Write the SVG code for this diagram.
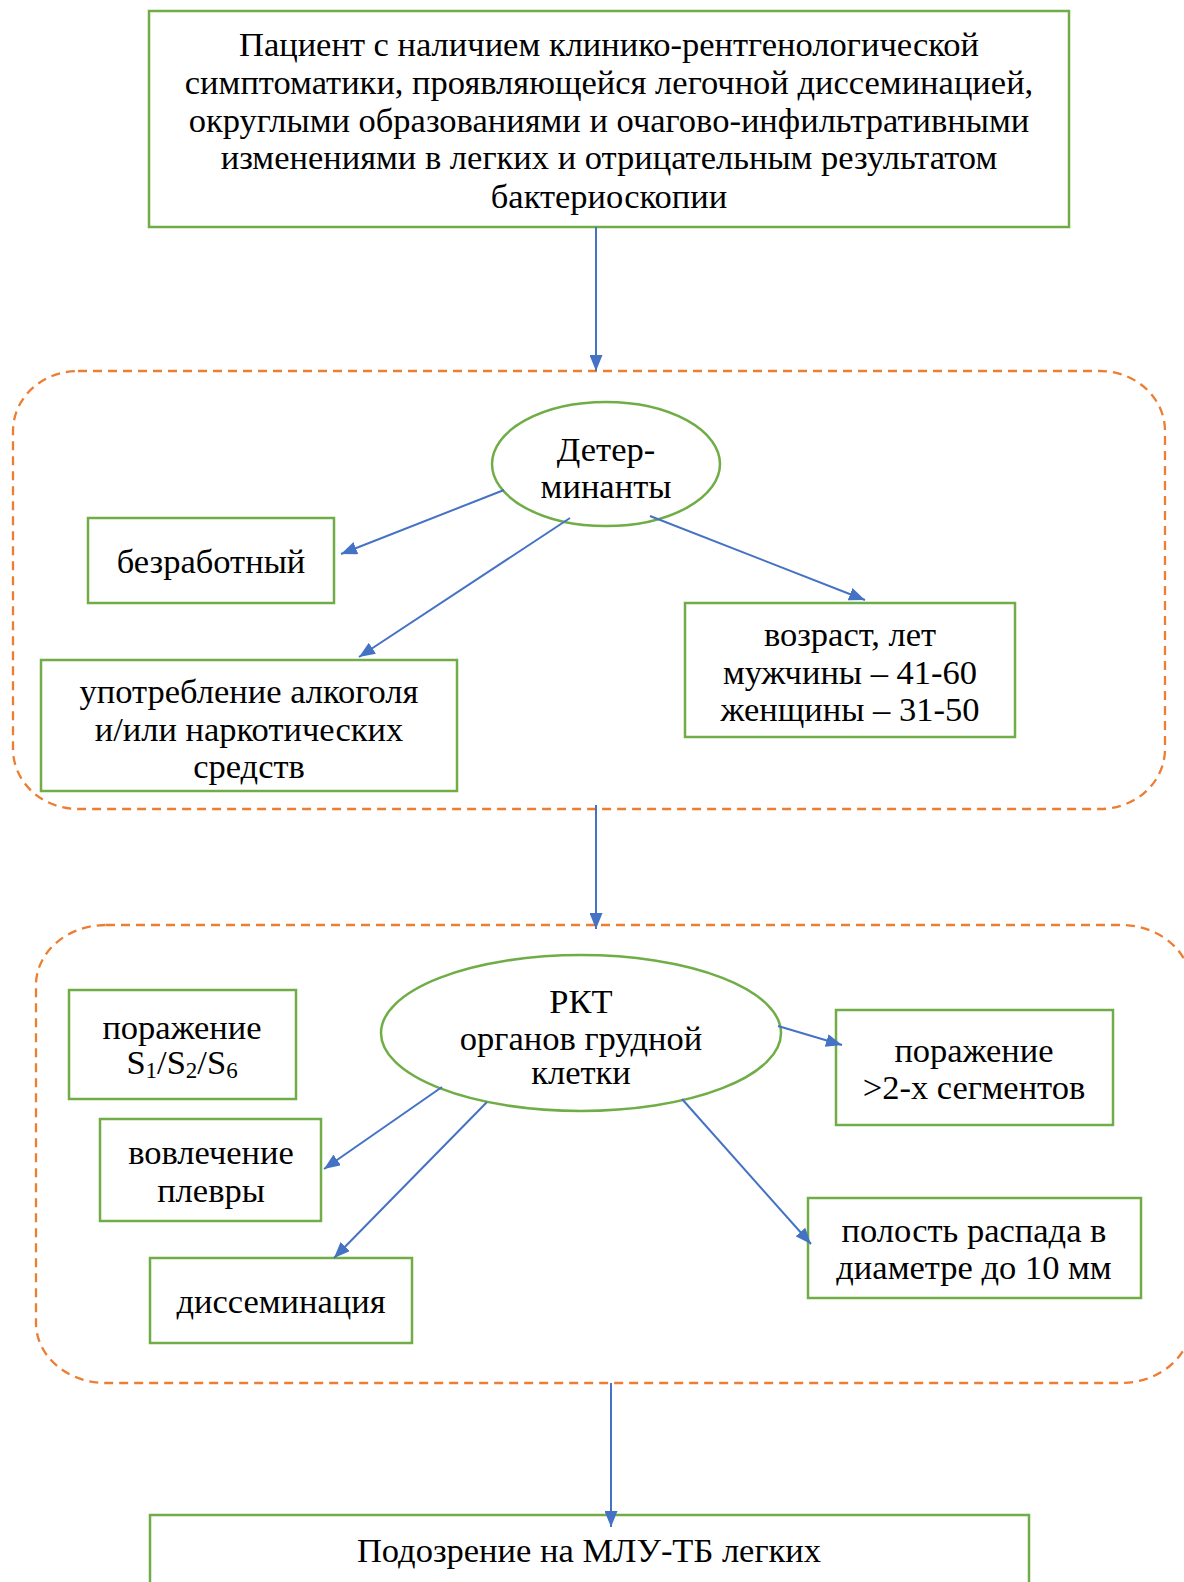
<svg xmlns="http://www.w3.org/2000/svg" width="1184" height="1582" viewBox="0 0 1184 1582">
<defs>
<style>
.box{fill:#fff;stroke:#70AD47;stroke-width:2.5}
.grp{fill:none;stroke:#ED7D31;stroke-width:2.3;stroke-dasharray:9 6}
.c{fill:none;stroke:#4472C4;stroke-width:2;marker-end:url(#ah)}
text{font-family:"Liberation Serif","Times New Roman",serif;font-size:34.5px;fill:#000;text-anchor:middle}
.sub{font-size:23px}
</style>
<marker id="ah" viewBox="0 0 10 10" refX="10" refY="5" markerWidth="16" markerHeight="13" orient="auto" markerUnits="userSpaceOnUse" preserveAspectRatio="none">
<path d="M0,0 L10,5 L0,10 z" fill="#4472C4"/>
</marker>
</defs>
<rect width="1184" height="1582" fill="#fff"/>
<g id="groups">
<rect id="group1" class="grp" x="13" y="371" width="1152" height="438" rx="65" ry="60"/>
<rect id="group2" class="grp" x="36" y="925" width="1155" height="458" rx="70" ry="60"/>
</g>
<g id="n_patient">
<rect class="box" x="149" y="11" width="920" height="216"/>
<text x="609" y="56">Пациент с наличием клинико-рентгенологической</text>
<text x="609" y="94">симптоматики, проявляющейся легочной диссеминацией,</text>
<text x="609" y="132">округлыми образованиями и очагово-инфильтративными</text>
<text x="609" y="169">изменениями в легких и отрицательным результатом</text>
<text x="609" y="208">бактериоскопии</text>
</g>
<g id="n_det">
<ellipse class="box" cx="606" cy="464" rx="114" ry="62"/>
<text x="606" y="461">Детер-</text>
<text x="606" y="498">минанты</text>
</g>
<g id="n_unemp">
<rect class="box" x="88" y="518" width="246" height="85"/>
<text x="211" y="573">безработный</text>
</g>
<g id="n_alc">
<rect class="box" x="41" y="660" width="416" height="131"/>
<text x="249" y="703">употребление алкоголя</text>
<text x="249" y="741">и/или наркотических</text>
<text x="249" y="778">средств</text>
</g>
<g id="n_age">
<rect class="box" x="685" y="603" width="330" height="134"/>
<text x="850" y="646">возраст, лет</text>
<text x="850" y="684">мужчины – 41-60</text>
<text x="850" y="721">женщины – 31-50</text>
</g>
<g id="n_rkt">
<ellipse class="box" cx="581" cy="1033" rx="200" ry="78"/>
<text x="581" y="1013">РКТ</text>
<text x="581" y="1050">органов грудной</text>
<text x="581" y="1084">клетки</text>
</g>
<g id="n_s126">
<rect class="box" x="69" y="990" width="227" height="109"/>
<text x="182" y="1039">поражение</text>
<text x="182" y="1074">S<tspan class="sub" dy="4">1</tspan><tspan dy="-4">/S</tspan><tspan class="sub" dy="4">2</tspan><tspan dy="-4">/S</tspan><tspan class="sub" dy="4">6</tspan></text>
</g>
<g id="n_pleura">
<rect class="box" x="100" y="1119" width="221" height="102"/>
<text x="211" y="1164">вовлечение</text>
<text x="211" y="1202">плевры</text>
</g>
<g id="n_diss">
<rect class="box" x="150" y="1258" width="262" height="85"/>
<text x="281" y="1313">диссеминация</text>
</g>
<g id="n_seg">
<rect class="box" x="836" y="1010" width="277" height="115"/>
<text x="974" y="1062">поражение</text>
<text x="974" y="1099">&gt;2-х сегментов</text>
</g>
<g id="n_cav">
<rect class="box" x="808" y="1198" width="333" height="100"/>
<text x="974" y="1242">полость распада в</text>
<text x="974" y="1279">диаметре до 10 мм</text>
</g>
<g id="n_mdr">
<rect class="box" x="150" y="1515" width="879" height="80"/>
<text x="589" y="1562">Подозрение на МЛУ-ТБ легких</text>
</g>
<g id="connectors">
<line class="c" x1="596" y1="227" x2="596" y2="371"/>
<line class="c" x1="504" y1="490" x2="341" y2="554"/>
<line class="c" x1="570" y1="518" x2="359" y2="657"/>
<line class="c" x1="650" y1="516" x2="865" y2="600"/>
<line class="c" x1="596" y1="805" x2="596" y2="929"/>
<line class="c" x1="778" y1="1026" x2="842" y2="1045"/>
<line class="c" x1="442" y1="1087" x2="324" y2="1169"/>
<line class="c" x1="487" y1="1102" x2="334" y2="1258"/>
<line class="c" x1="682" y1="1099" x2="811" y2="1244"/>
<line class="c" x1="611" y1="1383" x2="611" y2="1527"/>
</g>
</svg>
